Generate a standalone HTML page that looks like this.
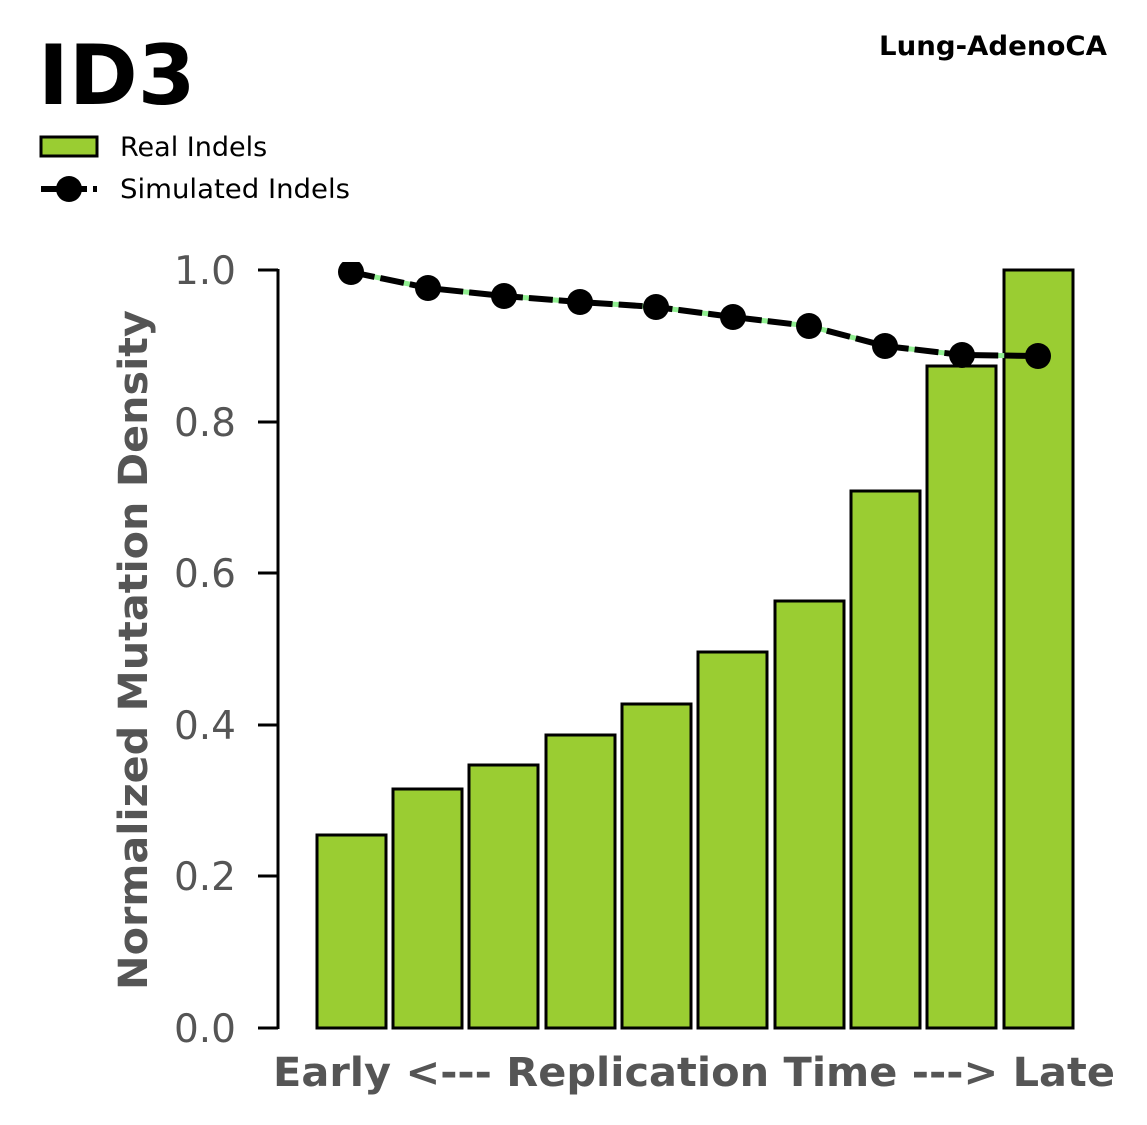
<!DOCTYPE html>
<html><head><meta charset="utf-8"><style>html,body{margin:0;padding:0;background:#fff}svg{display:block}</style></head>
<body>
<svg width="1147" height="1125" viewBox="0 0 1147 1125" xmlns="http://www.w3.org/2000/svg" font-family="'DejaVu Sans','Liberation Sans',sans-serif">
<text x="38" y="104" font-size="83" font-weight="bold" fill="#000">ID3</text>
<text x="1107" y="55" font-size="27" font-weight="bold" fill="#000" text-anchor="end" textLength="228" lengthAdjust="spacingAndGlyphs">Lung-AdenoCA</text>
<rect x="41" y="137" width="56" height="19" fill="#9acd32" stroke="#000" stroke-width="3"/>
<text x="120" y="156" font-size="27" fill="#000">Real Indels</text>
<line x1="41" y1="189" x2="97" y2="189" stroke="#000" stroke-width="6" stroke-dasharray="20,6"/>
<circle cx="69" cy="189" r="13" fill="#000"/>
<text x="120" y="198" font-size="27" fill="#000" textLength="230" lengthAdjust="spacingAndGlyphs">Simulated Indels</text>
<g stroke="#000" stroke-width="3" fill="none">
<line x1="278" y1="269" x2="278" y2="1029"/>
<line x1="258" y1="1028" x2="278" y2="1028"/>
<line x1="258" y1="876" x2="278" y2="876"/>
<line x1="258" y1="725" x2="278" y2="725"/>
<line x1="258" y1="573" x2="278" y2="573"/>
<line x1="258" y1="422" x2="278" y2="422"/>
<line x1="258" y1="270" x2="278" y2="270"/>
</g>
<g font-size="39" fill="#555" text-anchor="end">
<text x="236" y="1042">0.0</text>
<text x="236" y="890">0.2</text>
<text x="236" y="739">0.4</text>
<text x="236" y="587">0.6</text>
<text x="236" y="436">0.8</text>
<text x="236" y="284">1.0</text>
</g>
<text transform="translate(147,650) rotate(-90)" font-size="40" font-weight="bold" fill="#555" text-anchor="middle" textLength="680" lengthAdjust="spacingAndGlyphs">Normalized Mutation Density</text>
<text x="694" y="1086" font-size="40" font-weight="bold" fill="#555" text-anchor="middle" textLength="842" lengthAdjust="spacingAndGlyphs">Early &lt;--- Replication Time ---&gt; Late</text>
<g fill="#9acd32" stroke="#000" stroke-width="3">
<rect x="317" y="835" width="69" height="193"/>
<rect x="393" y="789" width="69" height="239"/>
<rect x="469" y="765" width="69" height="263"/>
<rect x="546" y="735" width="69" height="293"/>
<rect x="622" y="704" width="69" height="324"/>
<rect x="698" y="652" width="69" height="376"/>
<rect x="775" y="601" width="69" height="427"/>
<rect x="851" y="491" width="69" height="537"/>
<rect x="927" y="366" width="69" height="662"/>
<rect x="1004" y="270" width="69" height="758"/>
</g>
<defs><clipPath id="c"><rect x="278" y="262" width="869" height="800"/></clipPath></defs>
<g clip-path="url(#c)">
<polyline points="351,272 428,288 504,296 580,302 656,307 733,317 809,326 885,346 962,355 1038,356" fill="none" stroke="#90ee90" stroke-width="5"/>
<polyline points="351,272 428,288 504,296 580,302 656,307 733,317 809,326 885,346 962,355 1038,356" fill="none" stroke="#000" stroke-width="6" stroke-dasharray="24,6"/>
<g fill="#000">
<circle cx="351" cy="272" r="13"/><circle cx="428" cy="288" r="13"/><circle cx="504" cy="296" r="13"/><circle cx="580" cy="302" r="13"/><circle cx="656" cy="307" r="13"/><circle cx="733" cy="317" r="13"/><circle cx="809" cy="326" r="13"/><circle cx="885" cy="346" r="13"/><circle cx="962" cy="355" r="13"/><circle cx="1038" cy="356" r="13"/>
</g></g>
</svg>
</body></html>
